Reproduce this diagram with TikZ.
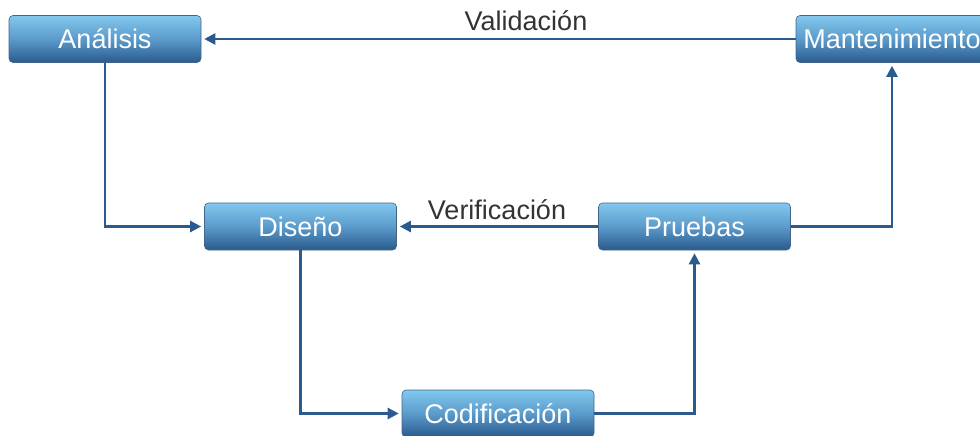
\documentclass[tikz,border=0pt]{standalone}
\usepackage{fontspec}
\setmainfont{Liberation Sans}
\usetikzlibrary{arrows.meta}
\definecolor{lineblue}{HTML}{2B5A8E}
\definecolor{boxtop}{HTML}{82C8EE}
\definecolor{boxmid}{HTML}{5B9BCB}
\definecolor{boxbot}{HTML}{2A5A8E}
\definecolor{labelgrey}{HTML}{333333}
\tikzset{
  stage/.style={rectangle, rounded corners=4pt, minimum width=192pt, minimum height=47pt,
    inner sep=0pt, top color=boxtop, bottom color=boxbot, middle color=boxmid,
    draw=boxbot!70!gray, line width=0.6pt, text=white,
    font=\fontsize{27}{30}\selectfont},
  flow/.style={draw=lineblue, line width=2.4pt, -{Triangle[length=11pt,width=11pt]}, shorten >=3pt},
  lbl/.style={text=labelgrey, font=\fontsize{27}{30}\selectfont, inner sep=0pt}
}
\begin{document}
\begin{tikzpicture}[x=1pt,y=-1pt]
\useasboundingbox (0,0) rectangle (980,436);
\begin{scope}
\clip (0,0) rectangle (980,436);
\node[stage] (ana) at (105,39) {Análisis};
\node[stage] (man) at (892,39) {Mantenimiento};
\node[stage] (dis) at (300.5,226.5) {Diseño};
\node[stage] (pru) at (694.5,226.5) {Pruebas};
\node[stage] (cod) at (498,413.5) {Codificación};
\end{scope}
\draw[flow] (ana.south) |- (dis.west);
\draw[flow] (dis.south) |- (cod.west);
\draw[flow] (cod.east) -| (pru.south);
\draw[flow] (pru.east) -| (man.south);
\draw[flow] (pru.west) -- (dis.east);
\draw[flow] (man.west) -- (ana.east);
\node[lbl] (val) at (526,21) {Validación};
\node[lbl] (ver) at (497,210) {Verificación};
\end{tikzpicture}
\end{document}
